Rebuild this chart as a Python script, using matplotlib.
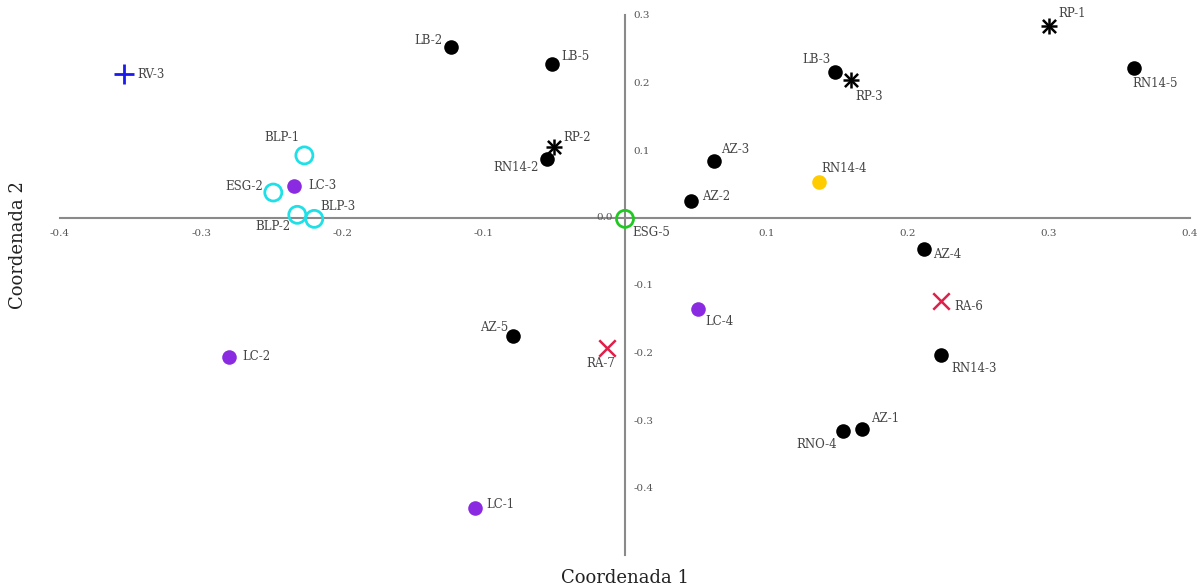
"""Scatter of the two first coordinates (PCoA-style) with point labels."""

import matplotlib

matplotlib.use("Agg")
import matplotlib.pyplot as plt

plt.rcParams["font.family"] = ["DejaVu Serif"]

# sample names, coordinates and group
names = ["RV-3", "LB-2", "LB-5", "BLP-1", "ESG-2", "LC-3", "BLP-2", "BLP-3",
         "RP-2", "RN14-2", "ESG-5", "AZ-3", "AZ-2", "RN14-4", "LB-3", "RP-3",
         "RP-1", "RN14-5", "AZ-4", "RA-6", "RN14-3", "AZ-1", "RNO-4", "LC-4",
         "AZ-5", "RA-7", "LC-2", "LC-1"]
coord1 = [-0.355, -0.123, -0.052, -0.227, -0.249, -0.234, -0.232, -0.220,
          -0.050, -0.055, 0.000, 0.063, 0.047, 0.137, 0.149, 0.160,
          0.300, 0.360, 0.212, 0.224, 0.224, 0.168, 0.154, 0.052,
          -0.079, -0.013, -0.280, -0.106]
coord2 = [0.212, 0.253, 0.228, 0.092, 0.037, 0.047, 0.004, -0.002,
          0.104, 0.087, -0.002, 0.083, 0.025, 0.052, 0.215, 0.203,
          0.284, 0.222, -0.046, -0.123, -0.204, -0.313, -0.316, -0.136,
          -0.175, -0.194, -0.206, -0.431]
groups = ["RV", "black", "black", "cyan", "cyan", "purple", "cyan", "cyan",
          "RP", "black", "green", "black", "black", "yellow", "black", "RP",
          "RP", "black", "black", "RA", "black", "black", "black", "purple",
          "black", "RA", "purple", "purple"]

x_ticks = [-0.4, -0.3, -0.2, -0.1, 0.1, 0.2, 0.3, 0.4]
y_ticks = [-0.4, -0.3, -0.2, -0.1, 0.1, 0.2, 0.3]

# label offsets in pixels (dx, dy, ha)
offsets = {
    "RV-3": (14, 0, "left"), "LB-2": (-9, 6, "right"), "LB-5": (10, 7, "left"),
    "BLP-1": (-22, 18, "center"), "ESG-2": (-10, 6, "right"),
    "LC-3": (14, 0, "left"), "BLP-2": (-24, -12, "center"),
    "BLP-3": (6, 12, "left"), "RP-2": (9, 10, "left"),
    "RN14-2": (-9, -9, "right"), "ESG-5": (7, -14, "left"),
    "AZ-3": (7, 12, "left"), "AZ-2": (11, 4, "left"),
    "RN14-4": (3, 14, "left"), "LB-3": (-5, 13, "right"),
    "RP-3": (4, -16, "left"), "RP-1": (10, 12, "left"),
    "RN14-5": (-1, -16, "left"), "AZ-4": (9, -6, "left"),
    "RA-6": (13, -6, "left"), "RN14-3": (10, -13, "left"),
    "AZ-1": (9, 10, "left"), "RNO-4": (-6, -14, "right"),
    "LC-4": (7, -12, "left"), "AZ-5": (-5, 8, "right"),
    "RA-7": (-6, -15, "center"), "LC-2": (13, 0, "left"),
    "LC-1": (11, 4, "left"),
}

styles = {
    "black": dict(marker="o", s=110, color="black", linewidths=0),
    "purple": dict(marker="o", s=110, color="#8a2be2", linewidths=0),
    "yellow": dict(marker="o", s=110, color="#ffcc00", linewidths=0),
    "cyan": dict(marker="o", s=150, facecolors="none", edgecolors="#1fe0e6", linewidths=2),
    "green": dict(marker="o", s=150, facecolors="none", edgecolors="#22c822", linewidths=2),
    "RV": dict(marker="+", s=200, color="#1a1aee", linewidths=2),
    "RA": dict(marker="x", s=140, color="#e0204a", linewidths=1.8),
}

fig = plt.figure(figsize=(12.04, 5.87), dpi=100)
ax = fig.add_axes([60 / 1204, 32 / 587, 1130 / 1204, 540 / 587])
ax.set_xlim(-0.4, 0.4)
ax.set_ylim(-0.5, 0.3)

for sp in ("top", "left"):
    ax.spines[sp].set_visible(False)
ax.spines["bottom"].set_position(("data", 0))
ax.spines["right"].set_position(("data", 0))
for sp in ("bottom", "right"):
    ax.spines[sp].set_color("#8a8a8a")
    ax.spines[sp].set_linewidth(1.5)
ax.yaxis.tick_right()
ax.set_xticks(x_ticks)
ax.set_yticks(y_ticks)
ax.set_xticklabels([f"{v:.1f}" for v in x_ticks])
ax.set_yticklabels([f"{v:.1f}" for v in y_ticks])
ax.tick_params(length=0, labelsize=7.5, labelcolor="#555555")
ax.tick_params(axis="x", pad=8)
ax.tick_params(axis="y", pad=6)
ax.text(-0.0085, 0.0, "0.0", ha="right", va="center", fontsize=7.5, color="#555555")

for g, st in styles.items():
    xs = [x for x, gg in zip(coord1, groups) if gg == g]
    ys = [y for y, gg in zip(coord2, groups) if gg == g]
    ax.scatter(xs, ys, zorder=3, clip_on=False, **st)

# RP samples drawn as asterisks (plus + cross)
rp_x = [x for x, g in zip(coord1, groups) if g == "RP"]
rp_y = [y for y, g in zip(coord2, groups) if g == "RP"]
ax.scatter(rp_x, rp_y, marker="x", s=90, color="black", linewidths=1.8, zorder=3)
ax.scatter(rp_x, rp_y, marker="+", s=130, color="black", linewidths=1.8, zorder=3)

for name, x, y in zip(names, coord1, coord2):
    dx, dy, ha = offsets[name]
    ax.annotate(name, (x, y), xytext=(dx, dy), textcoords="offset pixels",
                ha=ha, va="center", fontsize=8.5, color="#444444")

fig.text(625 / 1204, 1 - 578 / 587, "Coordenada 1", ha="center", va="center",
         fontsize=13, color="#222222")
fig.text(18 / 1204, 1 - 245 / 587, "Coordenada 2", ha="center", va="center",
         rotation=90, fontsize=13, color="#222222")

fig.savefig("out.png", dpi=100)
